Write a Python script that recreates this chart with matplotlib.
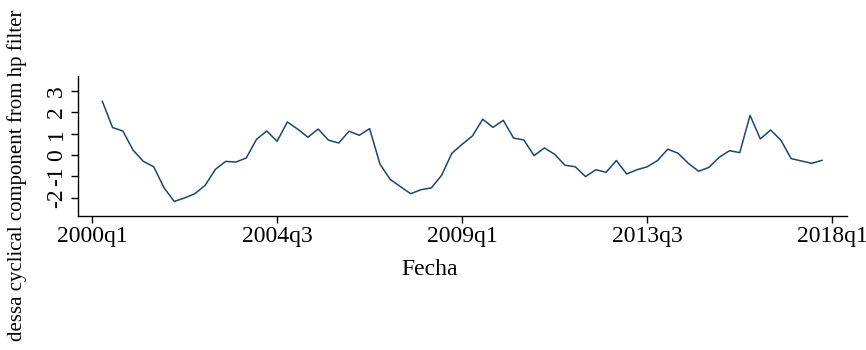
import matplotlib
matplotlib.use("Agg")
import matplotlib.pyplot as plt

# cyclical component, one value per quarter starting 2000q2
start_quarter = 1  # quarters after 2000q1
cycle = [2.51, 1.28, 1.12, 0.22, -0.30, -0.55, -1.53, -2.17, -2.01, -1.81,
         -1.42, -0.67, -0.30, -0.33, -0.14, 0.73, 1.12, 0.64, 1.54, 1.21,
         0.83, 1.21, 0.69, 0.56, 1.11, 0.92, 1.23, -0.42, -1.14, -1.48,
         -1.81, -1.62, -1.54, -0.95, 0.08, 0.50, 0.89, 1.67, 1.29, 1.62,
         0.79, 0.70, -0.03, 0.33, 0.03, -0.48, -0.55, -1.01, -0.69, -0.81,
         -0.26, -0.89, -0.69, -0.55, -0.26, 0.27, 0.08, -0.39, -0.76, -0.58,
         -0.11, 0.20, 0.11, 1.85, 0.75, 1.17, 0.69, -0.17, -0.28, -0.39,
         -0.25]
xtick_pos = [0, 18, 36, 54, 72]
xtick_labels = ['2000q1', '2004q3', '2009q1', '2013q3', '2018q1']
ytick_pos = [-2, -1, 0, 1, 2, 3]
ytick_labels = ['-2', '-1', '0', '1', '2', '3']

LINE_COLOR = '#1a476f'

plt.rcParams['font.family'] = ['Liberation Serif', 'DejaVu Serif']


def main():
    fig = plt.figure(figsize=(8.66, 3.5), dpi=100)
    ax = fig.add_axes([0.0901, 0.3829, 0.8876, 0.40])

    x = [start_quarter + i for i in range(len(cycle))]
    ax.plot(x, cycle, color=LINE_COLOR, linewidth=1.1)

    ax.set_xlim(-1.36, 73.4)
    ax.set_ylim(-2.85, 3.69)

    ax.set_xticks(xtick_pos)
    ax.set_xticklabels(xtick_labels, fontsize=17)
    ax.set_yticks(ytick_pos)
    ax.set_yticklabels(ytick_labels, fontsize=17, rotation=90, va='center')

    ax.tick_params(axis='both', direction='out', length=5, width=1, color='black')
    ax.tick_params(axis='x', pad=2)
    ax.tick_params(axis='y', pad=3)

    for side in ['top', 'right']:
        ax.spines[side].set_visible(False)
    for side in ['left', 'bottom']:
        ax.spines[side].set_linewidth(1)

    ax.set_xlabel('Fecha', fontsize=17)
    ax.xaxis.set_label_coords(0.458, -0.31)
    ax.set_ylabel('dessa cyclical component from hp filter', fontsize=15)
    ax.yaxis.set_label_coords(-0.066, 0.293)

    fig.savefig('out.png', dpi=100, facecolor='white')


if __name__ == "__main__":
    main()
